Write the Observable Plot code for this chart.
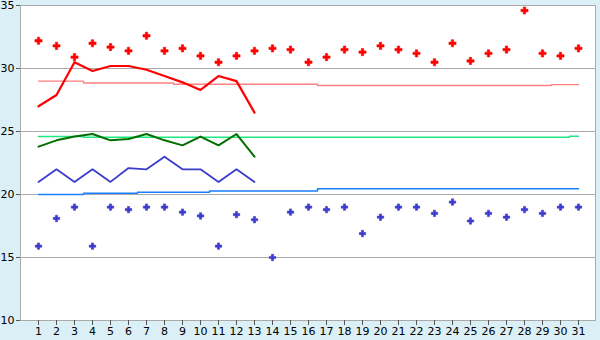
<!DOCTYPE html>
<html><head><meta charset="utf-8">
<script src="https://cdn.jsdelivr.net/npm/d3@7"></script>
<script src="https://cdn.jsdelivr.net/npm/@observablehq/plot@0.6"></script>
<style>body{margin:0;background:#daeff6;}</style>
</head><body><div id="chart"></div>
<script>
const days = [1,2,3,4,5,6,7,8,9,10,11,12,13,14,15,16,17,18,19,20,21,22,23,24,25,26,27,28,29,30,31];
const maxDaily = [32.2,31.8,30.9,32.0,31.7,31.4,32.6,31.4,31.6,31.0,30.5,31.0,31.4,31.6,31.5,30.5,30.9,31.5,31.3,31.8,31.5,31.2,30.5,32.0,30.6,31.2,31.5,34.6,31.2,31.0,31.6];
const minDaily = [15.9,18.1,19.0,15.9,19.0,18.8,19.0,19.0,18.6,18.3,15.9,18.4,18.0,15.0,18.6,19.0,18.8,19.0,16.9,18.2,19.0,19.0,18.5,19.4,17.9,18.5,18.2,18.8,18.5,19.0,19.0];
const maxLineDays = [1,2,3,4,5,6,7,8,9,10,11,12,13];
const maxLine = [27.0,27.9,30.5,29.8,30.2,30.2,29.9,29.4,28.9,28.3,29.4,29.0,26.5];
const meanLine = [23.8,24.3,24.6,24.8,24.3,24.4,24.8,24.3,23.9,24.6,23.9,24.8,23.0];
const minLine = [21.0,22.0,21.0,22.0,21.0,22.1,22.0,23.0,22.0,22.0,21.0,22.0,21.0];
const maxNormal = [29.0,29.0,29.0,28.85,28.85,28.85,28.85,28.85,28.75,28.75,28.75,28.75,28.75,28.75,28.75,28.75,28.65,28.65,28.65,28.65,28.65,28.65,28.65,28.65,28.65,28.65,28.65,28.65,28.65,28.72,28.72];
const meanNormal = [24.6,24.6,24.6,24.55,24.55,24.55,24.55,24.55,24.55,24.55,24.55,24.55,24.55,24.55,24.55,24.55,24.55,24.55,24.55,24.55,24.55,24.55,24.55,24.55,24.55,24.55,24.55,24.55,24.55,24.55,24.62];
const minNormal = [20.0,20.0,20.0,20.1,20.1,20.1,20.18,20.18,20.18,20.18,20.27,20.27,20.27,20.27,20.27,20.27,20.45,20.45,20.45,20.45,20.45,20.45,20.45,20.45,20.45,20.45,20.45,20.45,20.45,20.45,20.45];
const yTicks = [10,15,20,25,30,35];
const gridTicks = [15,20,25,30];

const daily = days.map((d,i)=>({day:d, max:maxDaily[i], min:minDaily[i], nmax:maxNormal[i], nmean:meanNormal[i], nmin:minNormal[i]}));
const recent = maxLineDays.map((d,i)=>({day:d, max:maxLine[i], mean:meanLine[i], min:minLine[i]}));

const chart = Plot.plot({
  width: 600, height: 340,
  marginLeft: 20, marginRight: 5, marginTop: 5, marginBottom: 20,
  style: {background:"#daeff6", fontFamily:"DejaVu Sans", fontSize:"11px", color:"black"},
  x: {type:"point", domain: days, padding: 0.5, label:null},
  y: {domain:[10,35], label:null},
  marks: [
    Plot.frame({fill:"white", stroke:"#aaa"}),
    Plot.ruleY(gridTicks, {stroke:"#aaa", strokeWidth:1}),
    Plot.line(daily, {x:"day", y:"nmax", stroke:"#ff8080", strokeWidth:1.3, curve:"step"}),
    Plot.line(daily, {x:"day", y:"nmean", stroke:"#20e880", strokeWidth:1.5, curve:"step"}),
    Plot.line(daily, {x:"day", y:"nmin", stroke:"#1a7fff", strokeWidth:1.5, curve:"step"}),
    Plot.line(recent, {x:"day", y:"max", stroke:"#ff0000", strokeWidth:2.2}),
    Plot.line(recent, {x:"day", y:"mean", stroke:"#006e00", strokeWidth:2}),
    Plot.line(recent, {x:"day", y:"min", stroke:"#3b3bcc", strokeWidth:1.8}),
    Plot.dot(daily, {x:"day", y:"max", symbol:"cross", r:3, fill:"#ff0000", stroke:"#ff0000", strokeWidth:0.6}),
    Plot.dot(daily, {x:"day", y:"min", symbol:"cross", r:2.7, fill:"#3b3bcc", stroke:"#3b3bcc", strokeWidth:0.6}),
    Plot.axisY({ticks:yTicks, tickSize:4, tickPadding:2, stroke:"#555"}),
    Plot.axisX({ticks:days, tickSize:5, tickPadding:2, stroke:"#555"})
  ]
});
document.getElementById("chart").appendChild(chart);
</script>
</body></html>
